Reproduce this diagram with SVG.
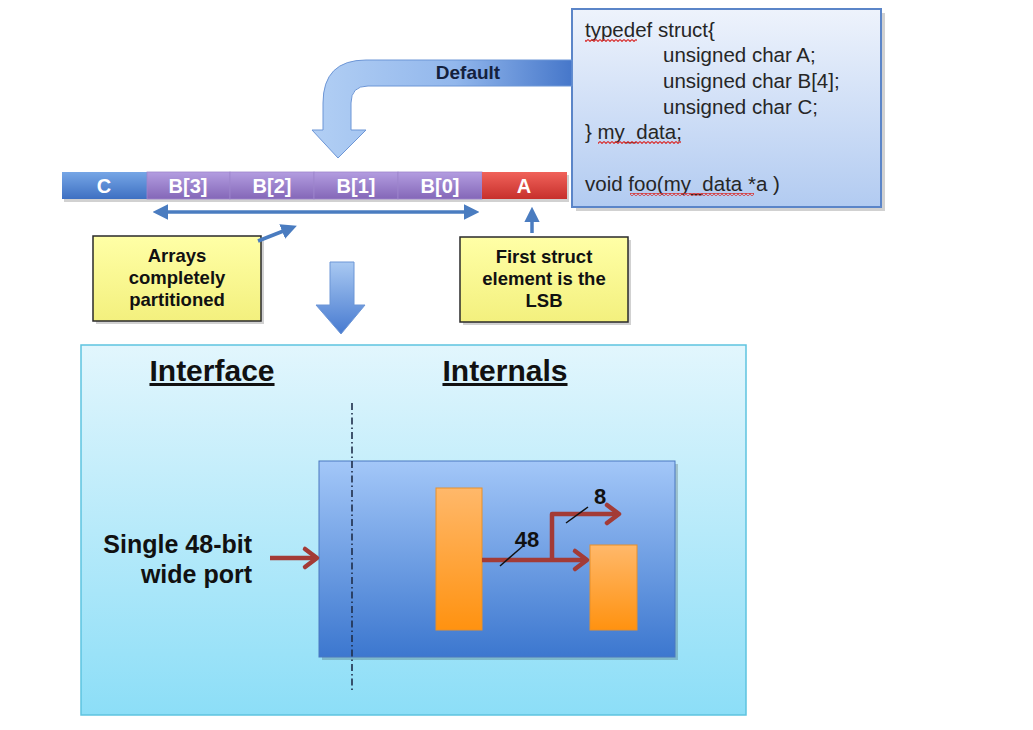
<svg xmlns="http://www.w3.org/2000/svg" width="1033" height="730" viewBox="0 0 1033 730">
<style>
.code{font-family:"Liberation Sans",Arial,sans-serif;font-size:20.5px;fill:#262626}
.lbl{font-family:"Liberation Sans",Arial,sans-serif;font-weight:bold;font-size:18.5px;fill:#111;text-anchor:middle}
.seg{font-family:"Liberation Sans",Arial,sans-serif;font-weight:bold;font-size:20px;fill:#fff;text-anchor:middle}
.hdr{font-family:"Liberation Sans",Arial,sans-serif;font-weight:bold;font-size:30px;fill:#111;text-anchor:middle;text-decoration:underline}
.big{font-family:"Liberation Sans",Arial,sans-serif;font-weight:bold;font-size:25px;fill:#111;text-anchor:end}
.num{font-family:"Liberation Sans",Arial,sans-serif;font-weight:bold;font-size:22px;fill:#111;text-anchor:middle}
.blue{stroke:#4a7cc0;stroke-width:3.5;fill:none}
.red{stroke:#a33b36;stroke-width:4.5;fill:none;stroke-linejoin:round}
.chev{stroke:#a33b36;stroke-width:4.5;fill:none;stroke-linecap:round;stroke-linejoin:round}
.yel{fill:url(#gYel);stroke:#2a2a2a;stroke-width:1.5}
.shadow{fill:#000;opacity:0.18}
</style>
<defs>
<linearGradient id="gCode" x1="0" y1="0" x2="0" y2="1"><stop offset="0" stop-color="#eef3fc"/><stop offset="1" stop-color="#b2cbf1"/></linearGradient>
<linearGradient id="gYel" x1="0" y1="0" x2="0" y2="1"><stop offset="0" stop-color="#ffffa6"/><stop offset="1" stop-color="#f3f07e"/></linearGradient>
<linearGradient id="gC" x1="0" y1="0" x2="0" y2="1"><stop offset="0" stop-color="#76a6e6"/><stop offset="1" stop-color="#3e70c2"/></linearGradient>
<linearGradient id="gB" x1="0" y1="0" x2="0" y2="1"><stop offset="0" stop-color="#b39de0"/><stop offset="1" stop-color="#8467b8"/></linearGradient>
<linearGradient id="gA" x1="0" y1="0" x2="0" y2="1"><stop offset="0" stop-color="#f0625a"/><stop offset="1" stop-color="#c7302c"/></linearGradient>
<linearGradient id="gDef" x1="312" y1="0" x2="572" y2="0" gradientUnits="userSpaceOnUse"><stop offset="0" stop-color="#b2cff4"/><stop offset="0.55" stop-color="#92b7ec"/><stop offset="1" stop-color="#4677ca"/></linearGradient>
<linearGradient id="gDown" x1="0" y1="0" x2="0" y2="1"><stop offset="0" stop-color="#a9c9f2"/><stop offset="1" stop-color="#477ad0"/></linearGradient>
<linearGradient id="gBig" x1="0" y1="0" x2="0" y2="1"><stop offset="0" stop-color="#e2f6fd"/><stop offset="1" stop-color="#8cdef7"/></linearGradient>
<linearGradient id="gIn" x1="0" y1="0" x2="0" y2="1"><stop offset="0" stop-color="#a3c7f8"/><stop offset="1" stop-color="#3c77cf"/></linearGradient>
<linearGradient id="gOr" x1="0" y1="0" x2="0" y2="1"><stop offset="0" stop-color="#ffb86a"/><stop offset="1" stop-color="#ff9210"/></linearGradient>
<pattern id="wavy" width="4" height="3" patternUnits="userSpaceOnUse"><path d="M0 0.5 L2 2.5 L4 0.5" stroke="#d83030" stroke-width="1.1" fill="none"/></pattern>
<marker id="bh" viewBox="0 0 10 10" refX="6" refY="5" markerWidth="4.5" markerHeight="4.5" orient="auto-start-reverse" markerUnits="strokeWidth"><path d="M0 0 L10 5 L0 10 Z" fill="#4a7cc0"/></marker>
</defs>
<rect width="1033" height="730" fill="#ffffff"/>

<g id="code-box">
<rect class="shadow" x="576" y="13" width="309" height="198"/>
<rect x="572" y="9" width="309" height="198" fill="url(#gCode)" stroke="#5b85c8" stroke-width="2"/>
<text class="code" x="585" y="37">typedef struct{</text>
<text class="code" x="663" y="62">unsigned char A;</text>
<text class="code" x="663" y="88">unsigned char B[4];</text>
<text class="code" x="663" y="114">unsigned char C;</text>
<text class="code" x="585" y="139">} my_data;</text>
<text class="code" x="585" y="191">void foo(my_data *a )</text>
<rect x="585" y="39" width="52" height="3" fill="url(#wavy)"/>
<rect x="598" y="141" width="83" height="3" fill="url(#wavy)"/>
<rect x="630" y="193" width="124" height="3" fill="url(#wavy)"/>
</g>

<g id="default-arrow">
<path d="M572 60 L366 60 Q323 60 323 103 L323 130 L312 130 L338 158 L366 130 L351 130 L351 103 Q351 86 368 86 L572 86 Z" fill="url(#gDef)" stroke="#6d96d6" stroke-width="1"/>
<text x="468" y="79" font-family="Liberation Sans, Arial, sans-serif" font-weight="bold" font-size="19" fill="#14213d" text-anchor="middle">Default</text>
</g>

<g id="struct-bar">
<rect class="shadow" x="64" y="175" width="505" height="27"/>
<rect x="62" y="172" width="85" height="27" fill="url(#gC)"/>
<rect x="147" y="172" width="83" height="27" fill="url(#gB)" stroke="#9d85cc" stroke-width="0.8"/>
<rect x="230" y="172" width="84" height="27" fill="url(#gB)" stroke="#9d85cc" stroke-width="0.8"/>
<rect x="314" y="172" width="84" height="27" fill="url(#gB)" stroke="#9d85cc" stroke-width="0.8"/>
<rect x="398" y="172" width="84" height="27" fill="url(#gB)" stroke="#9d85cc" stroke-width="0.8"/>
<rect x="482" y="172" width="85" height="27" fill="url(#gA)"/>
<text class="seg" x="104" y="193">C</text>
<text class="seg" x="188" y="193">B[3]</text>
<text class="seg" x="272" y="193">B[2]</text>
<text class="seg" x="356" y="193">B[1]</text>
<text class="seg" x="440" y="193">B[0]</text>
<text class="seg" x="524" y="193">A</text>
</g>

<g id="note-arrays">
<rect class="shadow" x="96" y="239" width="168" height="85"/>
<rect class="yel" x="93" y="236" width="168" height="85"/>
<text class="lbl" x="177" y="262">Arrays</text>
<text class="lbl" x="177" y="284">completely</text>
<text class="lbl" x="177" y="306">partitioned</text>
</g>

<g id="note-lsb">
<rect class="shadow" x="463" y="240" width="168" height="85"/>
<rect class="yel" x="460" y="237" width="168" height="85"/>
<text class="lbl" x="544" y="263">First struct</text>
<text class="lbl" x="544" y="285">element is the</text>
<text class="lbl" x="544" y="307">LSB</text>
</g>

<g id="down-arrow">
<path d="M330 262 L354 262 L354 305 L365 305 L341 334 L316 305 L330 305 Z" fill="url(#gDown)" stroke="#6d96d6" stroke-width="1"/>
</g>

<g id="connectors">
<line class="blue" x1="159" y1="212" x2="473" y2="212" marker-start="url(#bh)" marker-end="url(#bh)"/>
<line class="blue" x1="532" y1="233" x2="532" y2="213" marker-end="url(#bh)"/>
<line class="blue" x1="258" y1="241" x2="291" y2="228" marker-end="url(#bh)"/>
</g>

<g id="module-view">
<rect x="81" y="345" width="665" height="370" fill="url(#gBig)" stroke="#5ec3df" stroke-width="1.5"/>
<text class="hdr" x="212" y="381">Interface</text>
<text class="hdr" x="505" y="381">Internals</text>
<g id="inner-block">
<rect class="shadow" x="322" y="464" width="356" height="196"/>
<rect x="319" y="461" width="356" height="196" fill="url(#gIn)" stroke="#4a78c0" stroke-width="1"/>
</g>
<g id="reg-1"><rect x="436" y="488" width="46" height="142" fill="url(#gOr)" stroke="#e8902a" stroke-width="1"/></g>
<g id="reg-2"><rect x="590" y="545" width="47" height="85" fill="url(#gOr)" stroke="#e8902a" stroke-width="1"/></g>
<line x1="352" y1="403" x2="352" y2="690" stroke="#1f2d4a" stroke-width="1.6" stroke-dasharray="7 3 1.5 3"/>
<text class="big" x="252" y="553">Single 48-bit</text>
<text class="big" x="252" y="583">wide port</text>
</g>

<g id="signal-connectors">
<line class="red" x1="270" y1="558" x2="316" y2="558"/>
<polyline class="chev" points="305,549 317,558 305,567"/>
<line class="red" x1="482" y1="560" x2="586" y2="560"/>
<polyline class="chev" points="575,551 587,560 575,569"/>
<polyline class="red" points="552,560 552,514 618,514"/>
<polyline class="chev" points="607,505 619,514 607,523"/>
<line x1="500" y1="566" x2="523" y2="546" stroke="#111" stroke-width="1.5"/>
<line x1="566" y1="523" x2="588" y2="507" stroke="#111" stroke-width="1.5"/>
<text class="num" x="527" y="547">48</text>
<text class="num" x="600" y="504">8</text>
</g>
</svg>
